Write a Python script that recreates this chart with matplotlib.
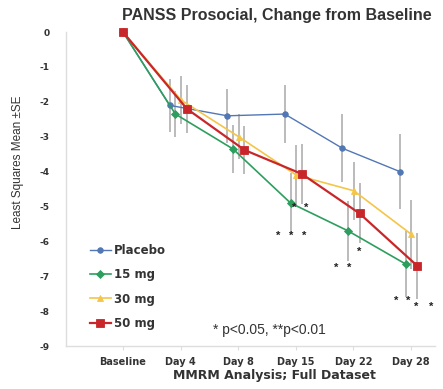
import matplotlib
matplotlib.use("Agg")
import matplotlib.pyplot as plt
import numpy as np

plt.rcParams['font.family'] = ['Liberation Sans', 'DejaVu Sans']

categories = ["Baseline", "Day 4", "Day 8", "Day 15", "Day 22", "Day 28"]
series_names = ["Placebo", "15 mg", "30 mg", "50 mg"]
placebo = [0, -2.1, -2.4, -2.35, -3.33, -4.0]
mg15 = [0, -2.35, -3.35, -4.9, -5.7, -6.65]
mg30 = [0, -1.95, -3.0, -4.1, -4.55, -5.8]
mg50 = [0, -2.2, -3.38, -4.07, -5.2, -6.7]
se_placebo = [0, 0.75, 0.78, 0.83, 0.97, 1.07]
se_15 = [0, 0.66, 0.69, 0.86, 0.86, 0.95]
se_30 = [0, 0.69, 0.65, 0.86, 0.83, 1.0]
se_50 = [0, 0.69, 0.69, 0.86, 0.86, 0.95]
yticks = [0, -1, -2, -3, -4, -5, -6, -7, -8, -9]

# significance annotations: (category index, offset, y value, text)
stars = [(3, -0.02, -5.05, "*"), (3, 0.19, -5.05, "*"),
         (3, -0.3, -5.85, "*"), (3, -0.07, -5.85, "*"), (3, 0.14, -5.85, "*"),
         (4, 0.1, -6.3, "*"),
         (4, -0.3, -6.75, "*"), (4, -0.07, -6.75, "*"),
         (5, -0.25, -7.7, "*"), (5, -0.05, -7.7, "*"),
         (5, 0.1, -7.88, "*"), (5, 0.35, -7.88, "*")]

values = [placebo, mg15, mg30, mg50]
ses = [se_placebo, se_15, se_30, se_50]
colors = ["#5277b5", "#2e9e5e", "#f4c548", "#c8262a"]
markers = ["o", "D", "^", "s"]
msizes = [4, 3.6, 5, 5.8]
lws = [1.0, 1.2, 1.2, 1.6]
offsets = [-0.19, -0.09, 0.01, 0.11]

fig = plt.figure(figsize=(4.43, 3.89), dpi=100)
ax = fig.add_axes([0.149, 0.1105, 0.833, 0.807])

x = np.arange(len(categories))
for vals, se, c, m, ms, lw, off, name in zip(values, ses, colors, markers, msizes, lws, offsets, series_names):
    xs = x + np.where(x == 0, 0, off)
    ax.errorbar(xs[1:], vals[1:], yerr=se[1:], fmt="none", ecolor="#a8a8a8",
                elinewidth=1.1, capsize=0, zorder=1)
    ax.plot(xs, vals, color=c, marker=m, markersize=ms, markeredgewidth=0.6,
            lw=lw, label=name, zorder=3, clip_on=False)

for ci, off, yv, t in stars:
    ax.text(ci + off, yv, t, ha="center", va="center", fontsize=8,
            fontweight="bold", color="#222222")

ax.text(2.55, -8.54, "* p<0.05, **p<0.01", ha="center", va="center",
        fontsize=10, color="#333333")

ax.set_xlim(-0.99, 5.42)
ax.set_ylim(-9, 0)
ax.set_xticks(x)
ax.set_xticklabels(categories, fontsize=7, fontweight="bold", color="#333333",
                   family="DejaVu Sans")
ax.set_yticks(yticks)
ax.set_yticklabels([str(v) for v in yticks], fontsize=6.5, fontweight="bold",
                   color="#333333", family="DejaVu Sans")
ax.tick_params(axis="y", length=0, pad=12)
ax.tick_params(axis="x", length=3, color="#dddddd", pad=5)
for s in ["top", "right"]:
    ax.spines[s].set_visible(False)
for s in ["left", "bottom"]:
    ax.spines[s].set_color("#dddddd")
    ax.spines[s].set_linewidth(1.0)

fig.text(274 / 443, 1 - 376 / 389, "MMRM Analysis; Full Dataset", ha="center",
         va="center", fontsize=9, fontweight="bold", color="#333333",
         family="DejaVu Sans")
fig.text(18 / 443, 1 - 162 / 389, "Least Squares Mean ±SE", rotation=90,
         ha="center", va="center", fontsize=8.5, color="#333333")
fig.text(277 / 443, 0.961, "PANSS Prosocial, Change from Baseline", ha="center",
         va="center", fontsize=11.5, fontweight="bold", color="#333333")

leg = ax.legend(loc="lower left", bbox_to_anchor=(0.035, 0.018), frameon=False,
                handlelength=1.8, labelspacing=0.95, handletextpad=0.3,
                prop={"weight": "bold", "size": 8.5, "family": "DejaVu Sans"})
for t in leg.get_texts():
    t.set_color("#333333")

fig.savefig("out.png", dpi=100)
